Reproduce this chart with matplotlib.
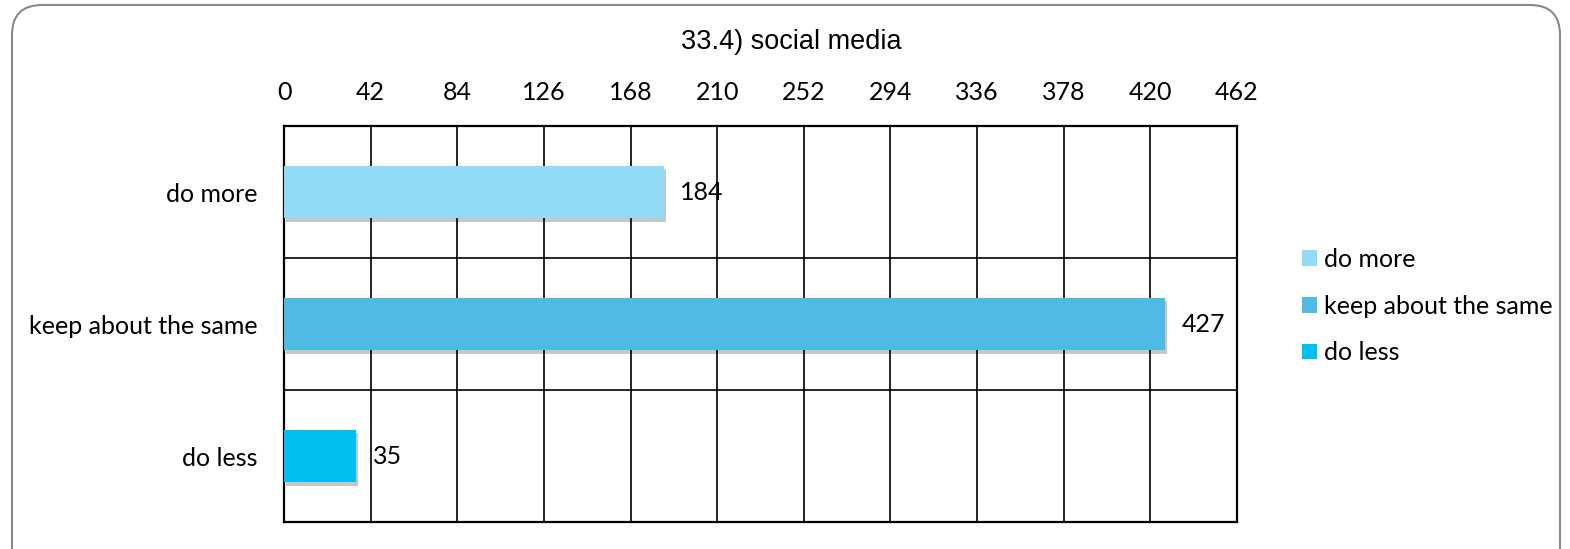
import matplotlib.pyplot as plt
import matplotlib.patheffects as pe
from matplotlib.patches import FancyBboxPatch, Patch

categories = ['do more', 'keep about the same', 'do less']
values = [184, 427, 35]
colors = ['#91DBF6', '#4FBAE3', '#00C0F2']
xticks = [0, 42, 84, 126, 168, 210, 252, 294, 336, 378, 420, 462]
title = '33.4) social media'

tick_font = 'Lato'
fs = 18

fig = plt.figure(figsize=(15.7, 5.49), dpi=100)

# rounded border round the whole chart (inches)
border = FancyBboxPatch((0.12, -0.4), 15.48, 5.84, boxstyle='round,pad=0,rounding_size=0.3',
                        transform=fig.dpi_scale_trans, facecolor='none', edgecolor='#888888', linewidth=1.5)
fig.patches.append(border)

ax = fig.add_axes([284/1570, 1-522/549, 953/1570, 396/549])
ypos = list(range(len(categories)))
shadow = [pe.SimplePatchShadow(offset=(1.5, -2.5), shadow_rgbFace='#000000', alpha=0.22), pe.Normal()]
bars = ax.barh(ypos, values, height=0.4, color=colors, zorder=3)
for b in bars:
    b.set_path_effects(shadow)

for y, v in zip(ypos, values):
    ax.annotate(str(v), (v, y), xytext=(12, 0), textcoords='offset points',
                va='center', ha='left', fontsize=fs, family=tick_font, zorder=4)

ax.set_xlim(0, 462)
ax.set_ylim(2.5, -0.5)
ax.xaxis.tick_top()
ax.set_xticks(xticks)
ax.set_xticklabels([str(t) for t in xticks], fontsize=fs, family=tick_font)
ax.set_yticks(ypos)
ax.set_yticklabels(categories, fontsize=fs, family=tick_font)
ax.tick_params(axis='y', length=0, pad=19)
ax.tick_params(axis='x', length=0, pad=16)

for t in xticks[1:-1]:
    ax.axvline(t, color='black', linewidth=1.2, zorder=1)
for yb in [0.5, 1.5]:
    ax.axhline(yb, color='black', linewidth=1.2, zorder=1)
for s in ax.spines.values():
    s.set_linewidth(1.6)

fig.text(791/1570, 1-42/549, title, ha='center', va='center', fontsize=19.5, family='Liberation Sans')

handles = [Patch(facecolor=c, label=l) for c, l in zip(colors, categories)]
fig.legend(handles=handles, loc='center left', bbox_to_anchor=(1279/1570, 1-306/549),
           frameon=False, handlelength=0.6, handleheight=0.6, handletextpad=0.3,
           labelspacing=0.95, prop={'family': tick_font, 'size': fs})

fig.savefig('out.png', dpi=100)
